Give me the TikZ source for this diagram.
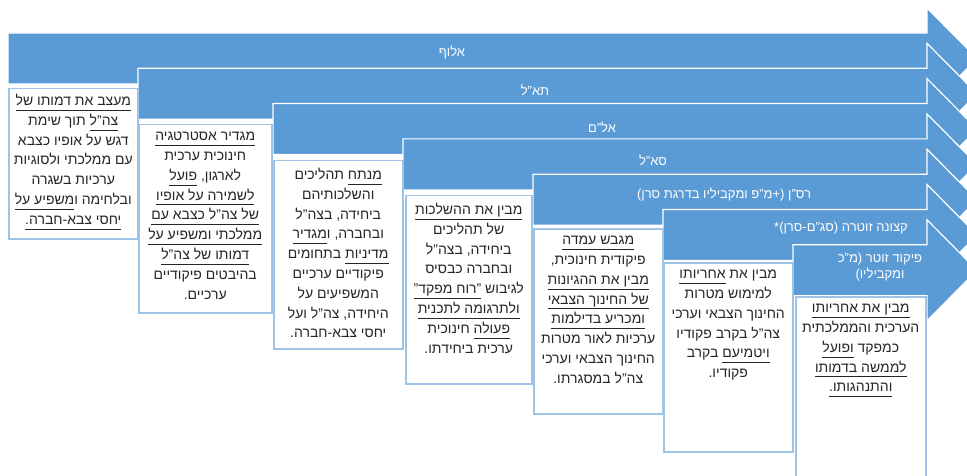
\documentclass[tikz,border=0pt]{standalone}
\usepackage{fontspec}
\setmainfont{Liberation Sans}[Script=Hebrew]
\TeXXeTstate=1
\usetikzlibrary{positioning}

\definecolor{bandblue}{HTML}{5B9BD5}
\definecolor{boxblue}{HTML}{9DC3E6}

\newcommand\rl[1]{\beginR#1\endR}
\newcommand\undl[1]{\underline{\beginR#1\endR\rule[-3pt]{0pt}{3pt}}}

\tikzset{
	band/.style={fill=bandblue,draw=white,line width=1.2pt},
	bandlabel/.style={text=white,font=\fontsize{13}{16.5}\selectfont,align=center},
	descbox/.style={draw=boxblue,line width=1.5pt,fill=white,anchor=north west,inner sep=0pt},
	desctext/.style={text=black!85,font=\fontsize{14}{19.8}\selectfont,align=center,anchor=north,inner sep=0pt},
}

\begin{document}
\begin{tikzpicture}[
		x={(1pt,0pt)},
		y={(0pt,-1pt)},
	]
		\clip (0,0) rectangle (967,476);
		\fill[white] (0,0) rectangle (967,476);

		\foreach \n/\l in {0/8, 1/138, 2/273, 3/403, 4/533, 5/663, 6/793}{
			\pgfmathsetmacro\t{33+35.3*\n}
			\draw[band] (\l,\t) -- (927,\t) -- (927,\t-25) -- (977,\t+25.5) -- (927,\t+76) -- (927,\t+51) -- (\l,\t+51) -- cycle;
		}

		\node[bandlabel] (lblAluf) at (452,52) {\rl{אלוף}};
		\node[bandlabel] (lblTaal) at (535,90) {\rl{תא"ל}};
		\node[bandlabel] (lblAlam) at (602,127) {\rl{אל"ם}};
		\node[bandlabel] (lblSaal) at (653,160) {\rl{סא"ל}};
		\node[bandlabel] (lblRasan) at (724,195) {\rl{רס"ן (+מ"פ ומקביליו בדרגת סרן)}};
		\node[bandlabel] (lblKatzuna) at (841,228) {\rl{קצונה זוטרה (סג"ם-סרן)*}};
		\node[bandlabel] (lblPikud) at (880,267) {\rl{פיקוד זוטר (מ"כ}\\\rl{ומקביליו)}};

		\node[descbox,minimum width=129pt,minimum height=150pt] (box1) at (8,88) {};
		\node[descbox,minimum width=133pt,minimum height=188pt] (box2) at (138,124) {};
		\node[descbox,minimum width=129pt,minimum height=188pt] (box3) at (273,160) {};
		\node[descbox,minimum width=126pt,minimum height=188pt] (box4) at (405,195) {};
		\node[descbox,minimum width=129pt,minimum height=185pt] (box5) at (533,228) {};
		\node[descbox,minimum width=129pt,minimum height=189pt] (box6) at (663,262) {};
		\node[descbox,minimum width=130pt,minimum height=200pt] (box7) at (795,296) {};

		\node[desctext,below=6pt of box1.north] (txt1) {%
			\rl{\undl{מעצב את דמותו של}}\\
			\rl{\undl{צה"ל} תוך שימת}\\
			\rl{דגש על אופיו כצבא}\\
			\rl{עם ממלכתי ולסוגיות}\\
			\rl{ערכיות בשגרה}\\
			\rl{ובלחימה ו\undl{משפיע על}}\\
			\rl{\undl{יחסי צבא-חברה.}}};
		\node[desctext,below=8pt of box2.north] (txt2) {%
			\rl{\undl{מגדיר אסטרטגיה}}\\
			\rl{חינוכית ערכית}\\
			\rl{לארגון, \undl{פועל}}\\
			\rl{\undl{לשמירה על אופיו}}\\
			\rl{\undl{של צה"ל כצבא עם}}\\
			\rl{\undl{ממלכתי ומשפיע על}}\\
			\rl{\undl{דמותו של צה"ל}}\\
			\rl{בהיבטים פיקודיים}\\
			\rl{ערכיים.}};
		\node[desctext,below=8pt of box3.north] (txt3) {%
			\rl{\undl{מנתח} תהליכים}\\
			\rl{והשלכותיהם}\\
			\rl{ביחידה, בצה"ל}\\
			\rl{ובחברה, ו\undl{מגדיר}}\\
			\rl{\undl{מדיניות} בתחומים}\\
			\rl{פיקודיים ערכיים}\\
			\rl{המשפיעים על}\\
			\rl{היחידה, צה"ל ועל}\\
			\rl{יחסי צבא-חברה.}};
		\node[desctext,below=8pt of box4.north] (txt4) {%
			\rl{\undl{מבין את ההשלכות}}\\
			\rl{של תהליכים}\\
			\rl{ביחידה, בצה"ל}\\
			\rl{ובחברה כבסיס}\\
			\rl{לגיבוש \undl{"רוח מפקד"}}\\
			\rl{\undl{ולתרגומה לתכנית}}\\
			\rl{\undl{פעולה} חינוכית}\\
			\rl{ערכית ביחידתו.}};
		\node[desctext,below=8pt of box5.north] (txt5) {%
			\rl{\undl{מגבש עמדה}}\\
			\rl{פיקודית חינוכית,}\\
			\rl{\undl{מבין את ההגיונות}}\\
			\rl{\undl{של החינוך הצבאי}}\\
			\rl{\undl{ומכריע בדילמות}}\\
			\rl{ערכיות לאור מטרות}\\
			\rl{החינוך הצבאי וערכי}\\
			\rl{צה"ל במסגרתו.}};
		\node[desctext,below=8pt of box6.north] (txt6) {%
			\rl{מבין את \undl{אחריותו}}\\
			\rl{למימוש מטרות}\\
			\rl{החינוך הצבאי וערכי}\\
			\rl{צה"ל בקרב פקודיו}\\
			\rl{\undl{ויטמיעם} בקרב}\\
			\rl{פקודיו.}};
		\node[desctext,below=8pt of box7.north] (txt7) {%
			\rl{\undl{מבין את אחריותו}}\\
			\rl{הערכית והממלכתית}\\
			\rl{כמפקד \undl{ופועל}}\\
			\rl{\undl{לממשה בדמותו}}\\
			\rl{\undl{והתנהגותו.}}};
	\end{tikzpicture}
\end{document}
